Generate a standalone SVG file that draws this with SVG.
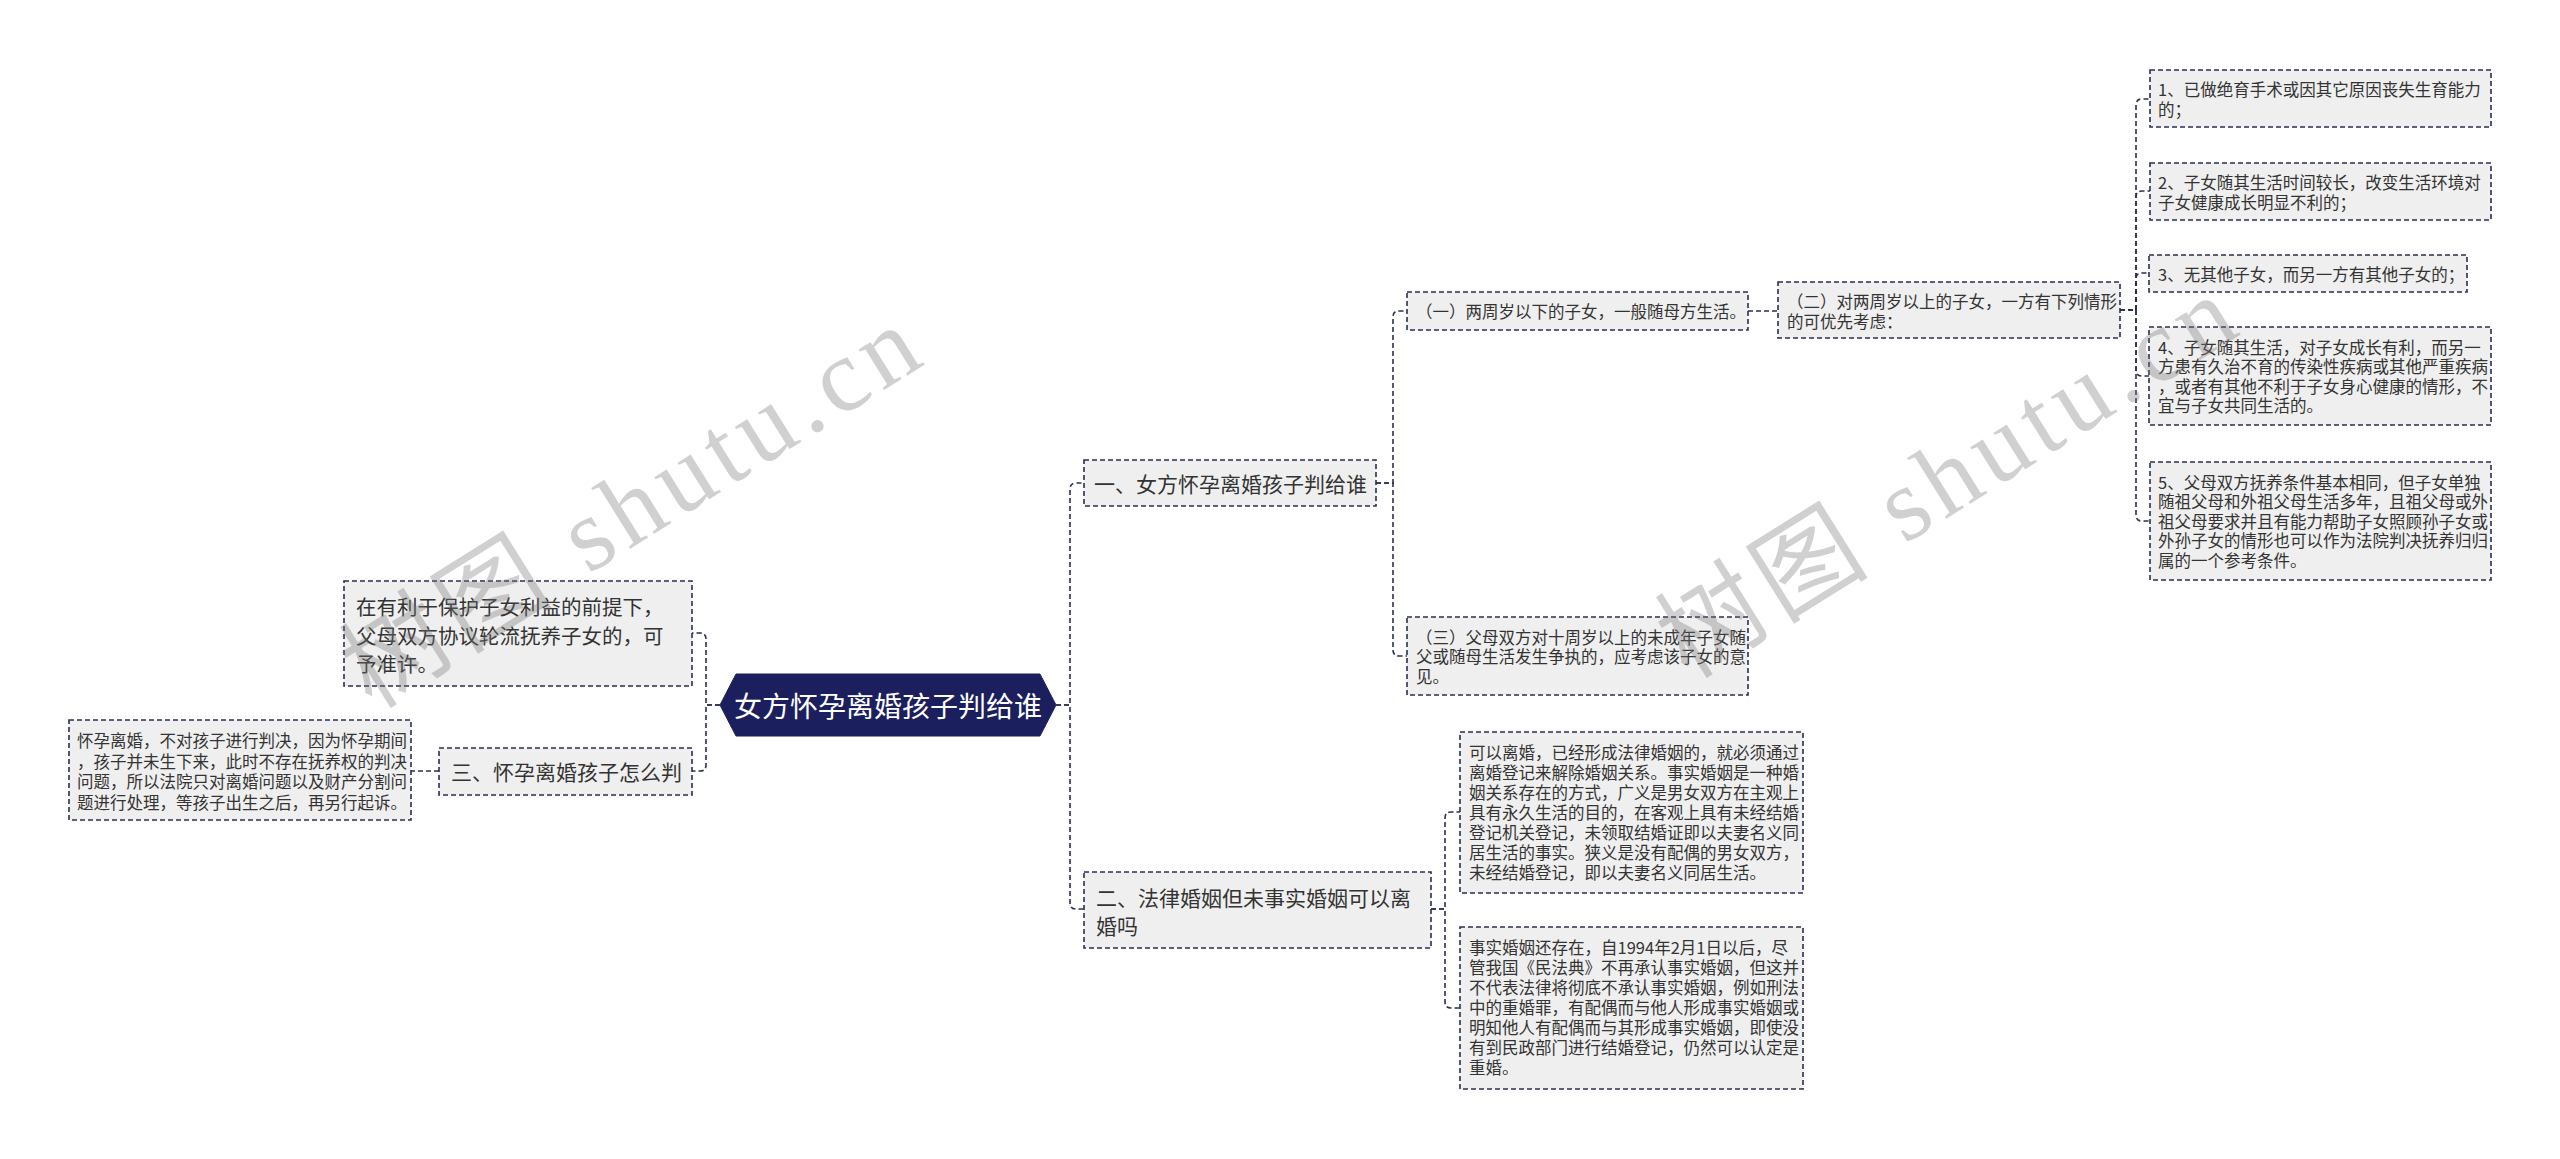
<svg xmlns="http://www.w3.org/2000/svg" width="2560" height="1159" viewBox="0 0 2560 1159">
<style>
.box{fill:#efefef;stroke:#2b2f52;stroke-width:1.6;stroke-dasharray:5 3}
.con{fill:none;stroke:#2b2f52;stroke-width:1.6;stroke-dasharray:5 3}
.t{font-family:"Noto Sans CJK SC","Microsoft YaHei",sans-serif;fill:#333;dominant-baseline:central}
.s{font-size:16.5px}
.m{font-size:21px}
.c{font-size:28px;fill:#fff;text-anchor:middle}
.wm{font-family:"Liberation Serif","Noto Sans CJK SC",serif;font-size:104px;fill:#777;opacity:0.34;letter-spacing:7px}
</style>
<rect width="2560" height="1159" fill="#fff"/>
<g id="connectors">
<path class="con" d="M720 705 H706 V639 Q706 633 700 633 H692"/>
<path class="con" d="M720 705 H706 V765 Q706 771 700 771 H692"/>
<path class="con" d="M439 771 H411"/>
<path class="con" d="M1056 705 H1070 V489 Q1070 483 1076 483 H1084"/>
<path class="con" d="M1056 705 H1070 V903 Q1070 909 1076 909 H1084"/>
<path class="con" d="M1376 483 H1393 V317 Q1393 311 1399 311 H1407"/>
<path class="con" d="M1376 483 H1393 V650 Q1393 656 1399 656 H1407"/>
<path class="con" d="M1748 311 H1778"/>
<path class="con" d="M2120 310 H2136 V105 Q2136 99 2142 99 H2150"/>
<path class="con" d="M2120 310 H2136 V197 Q2136 191 2142 191 H2150"/>
<path class="con" d="M2120 310 H2136 V279 Q2136 273 2142 273 H2149"/>
<path class="con" d="M2120 310 H2136 V370 Q2136 376 2142 376 H2149"/>
<path class="con" d="M2120 310 H2136 V515 Q2136 521 2142 521 H2150"/>
<path class="con" d="M1431 909 H1445 V818 Q1445 812 1451 812 H1460"/>
<path class="con" d="M1431 909 H1445 V1002 Q1445 1008 1451 1008 H1460"/>
</g>
<g id="root">
<polygon points="720,705 736,674 1040,674 1056,705 1040,736 736,736" fill="#1b1f5e" stroke="#1b1f5e" stroke-width="1"/>
<text class="t c" x="888" y="705">女方怀孕离婚孩子判给谁</text>
</g>
<g id="left-note">
<rect class="box" x="344" y="581" width="348" height="105"/>
<text class="t" style="font-size:20.5px" x="356"><tspan x="356" y="606">在有利于保护子女利益的前提下，</tspan><tspan x="356" y="634.5">父母双方协议轮流抚养子女的，可</tspan><tspan x="356" y="663">予准许。</tspan></text>
</g>
<g id="n3">
<rect class="box" x="439" y="748" width="253" height="47"/>
<text class="t m" x="451" y="771">三、怀孕离婚孩子怎么判</text>
</g>
<g id="n3-detail">
<rect class="box" x="69" y="720" width="342" height="100"/>
<text class="t s" x="77"><tspan x="77" y="740">怀孕离婚，不对孩子进行判决，因为怀孕期间</tspan><tspan x="77" y="760.5">，孩子并未生下来，此时不存在抚养权的判决</tspan><tspan x="77" y="781">问题，所以法院只对离婚问题以及财产分割问</tspan><tspan x="77" y="801.5">题进行处理，等孩子出生之后，再另行起诉。</tspan></text>
</g>
<g id="n1">
<rect class="box" x="1084" y="460" width="292" height="46"/>
<text class="t m" x="1094" y="483">一、女方怀孕离婚孩子判给谁</text>
</g>
<g id="n1-1">
<rect class="box" x="1407" y="292" width="341" height="38"/>
<text class="t s" x="1416" y="311">（一）两周岁以下的子女，一般随母方生活。</text>
</g>
<g id="n1-3">
<rect class="box" x="1407" y="617" width="341" height="78"/>
<text class="t s" x="1416"><tspan x="1416" y="636.5">（三）父母双方对十周岁以上的未成年子女随</tspan><tspan x="1416" y="656">父或随母生活发生争执的，应考虑该子女的意</tspan><tspan x="1416" y="675.5">见。</tspan></text>
</g>
<g id="n1-2">
<rect class="box" x="1778" y="282" width="342" height="56"/>
<text class="t s" x="1787"><tspan x="1787" y="301">（二）对两周岁以上的子女，一方有下列情形</tspan><tspan x="1787" y="320.5">的可优先考虑：</tspan></text>
</g>
<g id="c1">
<rect class="box" x="2150" y="70" width="341" height="57"/>
<text class="t s" x="2158"><tspan x="2158" y="89">1、已做绝育手术或因其它原因丧失生育能力</tspan><tspan x="2158" y="108.5">的；</tspan></text>
</g>
<g id="c2">
<rect class="box" x="2150" y="163" width="341" height="57"/>
<text class="t s" x="2158"><tspan x="2158" y="182">2、子女随其生活时间较长，改变生活环境对</tspan><tspan x="2158" y="201.5">子女健康成长明显不利的；</tspan></text>
</g>
<g id="c3">
<rect class="box" x="2149" y="255" width="318" height="37"/>
<text class="t s" x="2158" y="273.5">3、无其他子女，而另一方有其他子女的；</text>
</g>
<g id="c4">
<rect class="box" x="2149" y="327" width="342" height="98"/>
<text class="t s" x="2158"><tspan x="2158" y="346.5">4、子女随其生活，对子女成长有利，而另一</tspan><tspan x="2158" y="366">方患有久治不育的传染性疾病或其他严重疾病</tspan><tspan x="2158" y="385.5">，或者有其他不利于子女身心健康的情形，不</tspan><tspan x="2158" y="405">宜与子女共同生活的。</tspan></text>
</g>
<g id="c5">
<rect class="box" x="2150" y="462" width="341" height="118"/>
<text class="t s" x="2158"><tspan x="2158" y="481.5">5、父母双方抚养条件基本相同，但子女单独</tspan><tspan x="2158" y="501">随祖父母和外祖父母生活多年，且祖父母或外</tspan><tspan x="2158" y="520.5">祖父母要求并且有能力帮助子女照顾孙子女或</tspan><tspan x="2158" y="540">外孙子女的情形也可以作为法院判决抚养归归</tspan><tspan x="2158" y="559.5">属的一个参考条件。</tspan></text>
</g>
<g id="n2">
<rect class="box" x="1084" y="872" width="347" height="76"/>
<text class="t m" x="1096"><tspan x="1096" y="897">二、法律婚姻但未事实婚姻可以离</tspan><tspan x="1096" y="925">婚吗</tspan></text>
</g>
<g id="n2-1">
<rect class="box" x="1460" y="732" width="343" height="161"/>
<text class="t s" x="1469"><tspan x="1469" y="752">可以离婚，已经形成法律婚姻的，就必须通过</tspan><tspan x="1469" y="772">离婚登记来解除婚姻关系。事实婚姻是一种婚</tspan><tspan x="1469" y="792">姻关系存在的方式，广义是男女双方在主观上</tspan><tspan x="1469" y="812">具有永久生活的目的，在客观上具有未经结婚</tspan><tspan x="1469" y="832">登记机关登记，未领取结婚证即以夫妻名义同</tspan><tspan x="1469" y="852">居生活的事实。狭义是没有配偶的男女双方，</tspan><tspan x="1469" y="872">未经结婚登记，即以夫妻名义同居生活。</tspan></text>
</g>
<g id="n2-2">
<rect class="box" x="1460" y="927" width="343" height="162"/>
<text class="t s" x="1469"><tspan x="1469" y="947">事实婚姻还存在，自1994年2月1日以后，尽</tspan><tspan x="1469" y="967">管我国《民法典》不再承认事实婚姻，但这并</tspan><tspan x="1469" y="987">不代表法律将彻底不承认事实婚姻，例如刑法</tspan><tspan x="1469" y="1007">中的重婚罪，有配偶而与他人形成事实婚姻或</tspan><tspan x="1469" y="1027">明知他人有配偶而与其形成事实婚姻，即使没</tspan><tspan x="1469" y="1047">有到民政部门进行结婚登记，仍然可以认定是</tspan><tspan x="1469" y="1067">重婚。</tspan></text>
</g>
<g id="watermarks">
<text class="wm" transform="translate(372,710) rotate(-32)">树图 shutu.cn</text>
<text class="wm" transform="translate(1688,680) rotate(-32)">树图 shutu.cn</text>
</g>
</svg>
